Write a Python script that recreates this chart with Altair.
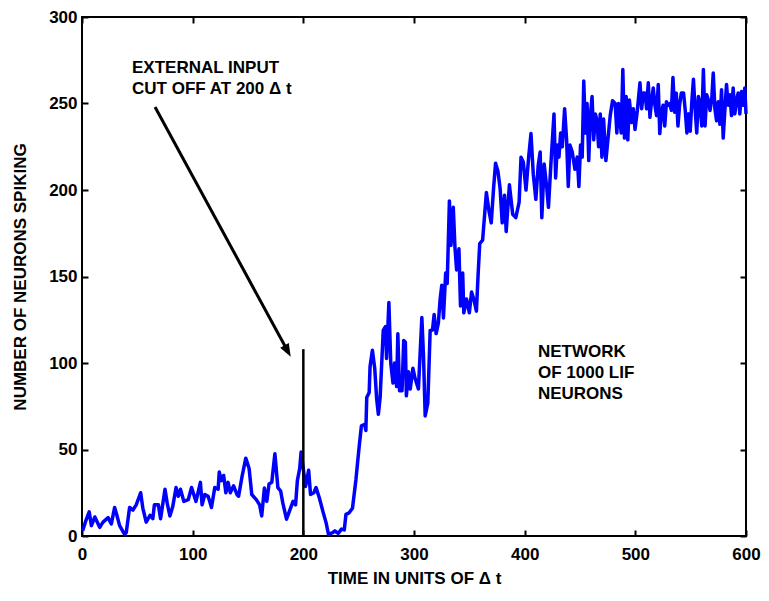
import altair as alt
import pandas as pd

# ---- data ----
time = [0.6, 3, 6.5, 8.5, 11.6, 16, 19, 23.6, 26.5, 29.5, 31.5, 34, 38.5, 40, 43, 46, 49, 53, 55, 58,
        61.5, 64, 65.4, 69, 71, 75, 77, 79.4, 82, 85, 87, 89, 92, 96, 99, 103, 107, 108.5, 111, 114,
        117, 120, 123, 124, 126, 128, 130, 132, 134, 137, 140,
        141.5, 144.5, 148, 151, 153.4, 157.5, 160.5, 162.4, 164.8, 167, 169, 171.5, 174.3, 177, 179.5,
        181.5, 184.8, 187.8, 190.7, 193, 194.6, 196.7, 198, 202, 204.8, 206.5, 209.5, 211.5, 214.5,
        217.6, 220.6, 222.7, 226.5, 228.5, 231.5, 234.5, 237, 238.5, 241.4, 244.4, 247.5, 250.4,
        252.5, 255.5, 256.5,
        257.3, 259.5, 260.3, 262.4, 264.5, 266.3, 267.8, 269.4, 272.2, 274.2, 275.2, 277.3, 279, 281,
        282.5, 284.3, 285.4, 286.9, 289.2, 290.7, 292.2, 293.1, 295, 296.6, 299, 301, 304, 307.1,
        308.6, 310.1, 312.5, 314.6, 316.7, 318.2, 320, 322, 323.6, 325.1, 326.6, 328.6, 330, 332,
        333.4, 335.5, 337, 338.5, 340.6, 342, 344, 345, 347.5, 350, 352, 354, 356.4, 358,
        359.4, 362, 365.4, 367.7, 369.8, 371.9, 373.7, 375.8, 377.8, 379.7, 381.8, 383.3, 386.2,
        389.2, 392, 395, 396.7, 398.8, 401.2, 403.6, 405.7, 407.8, 410.1, 412.2, 414, 415.5, 417.6,
        420, 421.5, 423.6, 426.5, 428, 429.5, 431, 432.5, 434, 436.1, 437.9, 439.4, 440.9, 443,
        445.4, 447.5, 449, 450.5, 452, 453.4, 454.9, 456.4, 457.9, 459.4, 460.9, 462.4, 463.9,
        465.4, 466.8, 468.3, 469.8, 471.3, 473.4, 475.2, 477.3, 479.4, 481.8, 483.3, 484.8, 487.2,
        488.7, 490.2, 491.7, 493.2, 494.6, 496.7, 498.2, 499.7, 501.8, 504.2, 505.7, 507.2, 508.7,
        510.2, 511.7, 513.2, 514.7, 516.2, 517.7, 519.2, 520.7, 522.1, 523.6, 525.1, 526.6, 528.1,
        529.6, 531.1, 532.6, 534, 535.5, 537, 538.5, 540, 541.5, 543.6, 545.1, 546.6, 548.1, 549.6,
        551.1, 552.5, 554, 555.5, 557, 558.5, 560, 561.5, 563, 564.5, 566, 567.5, 569, 570.4,
        571.9, 573.4, 574.9, 576.4, 577.9, 579.4, 580.9, 582.4, 583.9, 585.4, 586.9, 588.4, 589.9,
        591.4, 592.9, 594.4, 595.9, 597.4, 598.9, 600]
count = [3, 8, 14, 6, 11, 5, 8, 10.6, 7, 16.5, 12, 6, 1, 2, 16.5, 15, 18, 25, 16, 8,
         12, 10, 18, 18, 10, 27, 19, 11.6, 17, 28, 23, 27, 20, 21, 28, 20, 31, 18, 24, 23,
         16.5, 28, 27, 37, 32, 35, 25, 31, 25, 29, 24,
         23, 34, 45, 39, 24, 21, 18, 11.6, 27.7, 20, 30, 31, 47.6, 28, 26,
         19, 9.7, 15, 20, 18, 32, 39, 48.6, 28.6, 38, 24, 25, 28, 22,
         14.4, 7.6, 1, 2, 3, 1.5, 4, 3.5, 12.5, 13.4, 16, 32.4, 51.4,
         63.7, 64.5, 61,
         80, 83, 98, 107.4, 97, 79, 70.4, 80, 118.8, 121, 102.6, 135, 100, 88.4,
         100, 86.4, 116.9, 84, 84, 113, 112, 81, 95, 85, 97, 91, 85, 126.3,
         104, 69.4, 77, 118.8, 119, 128, 117, 123, 136.8, 145, 126, 152, 146, 193.7,
         168, 190, 167, 153.8, 166, 133, 152, 129, 137, 129, 141, 137, 130, 152,
         169, 171, 198.5, 188, 181, 201, 215.5, 211, 201, 181, 197, 176, 203,
         186, 184, 193, 219, 216, 200, 219, 232.6, 209, 194.6, 214, 222, 184, 215,
         201, 190, 214, 244, 207, 226, 219, 233, 225, 247, 229, 202, 226, 222,
         212, 219, 202, 226, 219, 263, 233, 250, 217, 243, 254, 229, 244,
         240, 225, 244, 219, 241, 217, 229, 243, 251.6, 250, 233, 250, 233,
         269.6, 230, 254, 229, 252, 239, 247, 235, 246, 262, 247, 256, 256,
         247, 262, 242, 251.6, 259, 249, 243, 261, 232.6, 245, 249, 237, 251,
         249, 250, 246, 265, 245, 256, 237, 249, 256, 256, 246, 233, 244, 234,
         251.6, 264, 247, 233, 254, 250, 237, 269.6, 237, 255, 252, 246, 252, 267.6,
         247, 240, 251, 238, 258, 230, 246, 261, 249, 255, 243, 259, 244,
         252, 256, 244, 257, 249, 259, 244]

cutoff_time = [200]
cutoff_low = [0]
cutoff_top = [108]

arrow_t = [66.0, 185.6]
arrow_v = [248.0, 107.2]
arrow_tip_t = [188.6]
arrow_tip_v = [103.6]

note_left_lines = ["EXTERNAL INPUT", "CUT OFF AT 200 Δ t"]
note_left_t = [45.2, 45.2]
note_left_v = [267.6, 255.5]
note_right_lines = ["NETWORK", "OF 1000 LIF", "NEURONS"]
note_right_t = [412.0, 412.0, 412.0]
note_right_v = [103.5, 91.3, 79.2]

x_ticks = [0, 100, 200, 300, 400, 500, 600]
y_ticks = [0, 50, 100, 150, 200, 250, 300]

# ---- styling ----
FONT = "Liberation Sans"
W, H = 664, 519
LBL = 17

xs = alt.Scale(domain=[0, 600], nice=False, zero=False)
ys = alt.Scale(domain=[0, 300], nice=False, zero=False)

main_x_axis = alt.Axis(values=x_ticks, ticks=False, tickSize=0, domain=False, grid=False,
                       labelFont=FONT, labelFontSize=LBL, labelFontWeight="bold", labelColor="black",
                       labelPadding=10, labelFlush=False,
                       title="TIME IN UNITS OF Δ t", titleFont=FONT, titleFontSize=17,
                       titleFontWeight="bold", titleColor="black", titlePadding=8)
main_y_axis = alt.Axis(values=y_ticks, ticks=False, tickSize=0, domain=False, grid=False,
                       labelFont=FONT, labelFontSize=LBL, labelFontWeight="bold", labelColor="black",
                       labelPadding=5, labelFlush=False,
                       title="NUMBER OF NEURONS SPIKING", titleFont=FONT, titleFontSize=17,
                       titleFontWeight="bold", titleColor="black", titlePadding=19)

tick_common = dict(labels=False, domain=False, grid=False, ticks=True, tickSize=6,
                   tickWidth=2, tickColor="black", title=None)

line_df = pd.DataFrame({"t": time, "v": count})
line = alt.Chart(line_df).mark_line(color="#0000ff", strokeWidth=3.5, strokeJoin="round").encode(
    x=alt.X("t:Q", scale=xs, axis=main_x_axis),
    y=alt.Y("v:Q", scale=ys, axis=main_y_axis),
)

# vertical cut-off line; its axes give inward ticks on bottom and left edges
vdf = pd.DataFrame({"t": cutoff_time, "v0": cutoff_low, "v1": cutoff_top})
vline = alt.Chart(vdf).mark_rule(color="black", strokeWidth=2.5).encode(
    x=alt.X("t:Q", scale=xs, axis=alt.Axis(orient="top", offset=-H, values=x_ticks, **tick_common)),
    y=alt.Y("v0:Q", scale=ys, axis=alt.Axis(orient="right", offset=-W, values=y_ticks, **tick_common)),
    y2="v1:Q",
)

# arrow shaft; its axes give inward ticks on top and right edges
adf = pd.DataFrame({"t": arrow_t, "v": arrow_v})
shaft = alt.Chart(adf).mark_line(color="black", strokeWidth=3).encode(
    x=alt.X("t:Q", scale=xs, axis=alt.Axis(orient="bottom", offset=-H, values=x_ticks, **tick_common)),
    y=alt.Y("v:Q", scale=ys, axis=alt.Axis(orient="left", offset=-W, values=y_ticks, **tick_common)),
)

hdf = pd.DataFrame({"t": arrow_tip_t, "v": arrow_tip_v})
head = alt.Chart(hdf).mark_point(
    shape="M0,0L-0.75,-2L0.75,-2Z", filled=True, color="black", opacity=1,
    size=169, angle=331.4, strokeWidth=0,
).encode(
    x=alt.X("t:Q", scale=xs, axis=None),
    y=alt.Y("v:Q", scale=ys, axis=None),
)

ldf = pd.DataFrame({"t": note_left_t, "v": note_left_v, "txt": note_left_lines})
rdf = pd.DataFrame({"t": note_right_t, "v": note_right_v, "txt": note_right_lines})
text_style = dict(align="left", baseline="alphabetic", font=FONT, fontSize=17,
                  fontWeight="bold", color="black")
left_notes = alt.Chart(ldf).mark_text(**text_style).encode(
    x=alt.X("t:Q", scale=xs, axis=None), y=alt.Y("v:Q", scale=ys, axis=None), text="txt:N")
right_notes = alt.Chart(rdf).mark_text(**text_style).encode(
    x=alt.X("t:Q", scale=xs, axis=None), y=alt.Y("v:Q", scale=ys, axis=None), text="txt:N")

chart = alt.layer(line, vline, shaft, head, left_notes, right_notes).resolve_axis(
    x="independent", y="independent"
).properties(
    width=W, height=H, autosize=alt.AutoSizeParams(type="none"),
    padding={"left": 74, "top": 9, "right": 15, "bottom": 57},
    background="white",
).configure_view(stroke="black", strokeWidth=2)

chart.save("out.html", embed_options={"renderer": "svg", "actions": False})
